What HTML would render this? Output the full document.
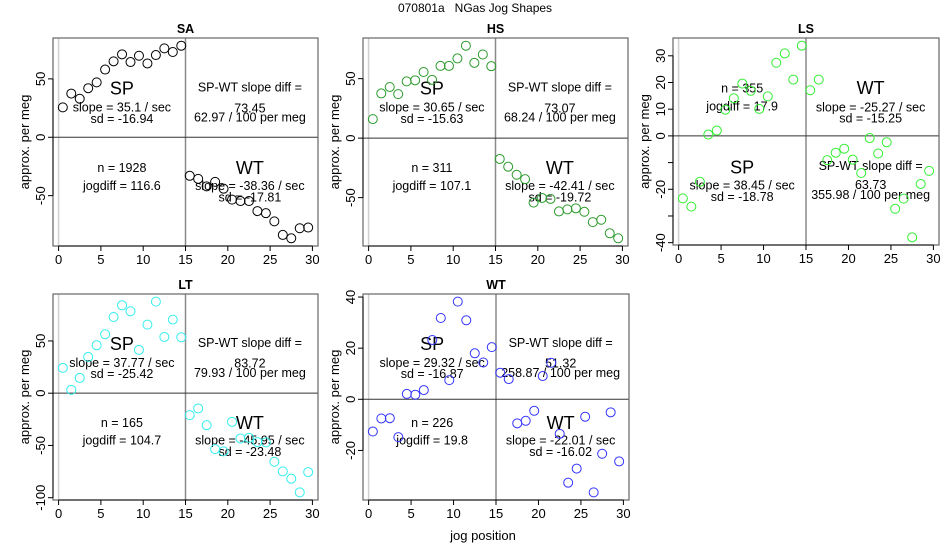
<!DOCTYPE html>
<html><head><meta charset="utf-8"><style>
html,body{margin:0;padding:0;background:#fff}
svg{display:block;font-family:"Liberation Sans",Arial,sans-serif}
</style></head><body>
<svg id="chart" width="950" height="550" viewBox="0 0 950 550" xmlns="http://www.w3.org/2000/svg">
<text x="475" y="12" font-size="12" text-anchor="middle" style="white-space:pre" xml:space="preserve">070801a   NGas Jog Shapes</text>
<text x="483" y="540" font-size="13" text-anchor="middle">jog position</text>
</svg>
<script>
const positions = [0.5,1.5,2.5,3.5,4.5,5.5,6.5,7.5,8.5,9.5,10.5,11.5,12.5,13.5,14.5,15.5,16.5,17.5,18.5,19.5,20.5,21.5,22.5,23.5,24.5,25.5,26.5,27.5,28.5,29.5];
const panelNames = ["SA","HS","LS","LT","WT"];
const valuesSA = [25.6,37.4,33,42,47,58,65,71,64.4,69.8,63.2,70.4,76.1,73,78.4,-33,-35.6,-42,-38.2,-44,-53.4,-54.6,-54.6,-63.2,-65,-72,-83.6,-86.5,-77.9,-77.3];
const valuesHS = [16,37.6,43,37,47.7,48.6,55.6,49,60.7,60.7,67,77.7,63.3,70.3,60.5,-17.5,-24,-30.8,-34.5,-54.2,-50.3,-51.1,-61.6,-59.9,-59,-61.9,-70.6,-68.6,-80,-84.2];
const valuesLS = [-23.4,-26.5,-17.2,0.5,2,9.8,14.1,19.6,16.9,10.1,14.8,27.4,30.9,21.1,33.8,17.1,21.1,-9.1,-6.3,-4.8,-8.9,-13.9,-0.8,-6.6,-2.4,-27.3,-23.5,-38,-18,-13.1];
const valuesLT = [24.2,3.2,14.6,34.7,45.9,56.4,72.9,84.1,78.4,41.4,65.6,87.6,53.8,70.4,53.5,-21,-14.6,-30.6,-53.5,-55.7,-27.4,-43.3,-42.7,-46.8,-47.1,-65.6,-74.8,-81.8,-94.9,-75.5];
const valuesWT = [-12.6,-7.5,-7.4,-14.8,2.1,1.8,3.6,23.2,31.8,7.5,38.2,30.9,18,14.4,20.4,10.4,7.9,-9.4,-8.4,-4.5,9.1,14.3,-13.5,-32.6,-27.1,-6.8,-36.4,-21.3,-5.1,-24.3];
const xTicks = [0,5,10,15,20,25,30];
const yTicksSA = [-50,0,50], yTicksHS = [-50,0,50], yTicksLT = [-100,-50,0,50], yTicksWT = [-20,0,20,40];
const yTicksLS = [-40,-30,-20,-10,0,10,20,30];
const yLabelsLS = ["-40","","-20","","0","10","20","30"];
const statsSA = ["35.1","-16.94","73.45","62.97","1928","116.6","-38.36","-17.81"];
const statsHS = ["30.65","-15.63","73.07","68.24","311","107.1","-42.41","-19.72"];
const statsLS = ["38.45","-18.78","63.73","355.98","355","17.9","-25.27","-15.25"];
const statsLT = ["37.77","-25.42","83.72","79.93","165","104.7","-45.95","-23.48"];
const statsWT = ["29.32","-16.87","51.32","258.87","226","19.8","-22.01","-16.02"];

const svg = document.getElementById('chart');
const NS = 'http://www.w3.org/2000/svg';
function mk(tag, attrs, parent){const e=document.createElementNS(NS,tag);for(const k in attrs)e.setAttribute(k,attrs[k]);(parent||svg).appendChild(e);return e;}

const panels = [
 {name:"SA",vals:valuesSA,ticks:yTicksSA,labels:null,stats:statsSA,box:[53,38,318,246],col:"#000",swap:false},
 {name:"HS",vals:valuesHS,ticks:yTicksHS,labels:null,stats:statsHS,box:[363,38,628,246],col:"#2a9a2a",swap:false},
 {name:"LS",vals:valuesLS,ticks:yTicksLS,labels:yLabelsLS,stats:statsLS,box:[673,38,939,245],col:"#33ee33",swap:true},
 {name:"LT",vals:valuesLT,ticks:yTicksLT,labels:null,stats:statsLT,box:[53,294,318,500],col:"#33eeee",swap:false},
 {name:"WT",vals:valuesWT,ticks:yTicksWT,labels:null,stats:statsWT,box:[363,294,629,500],col:"#3333ff",swap:false}
];

panels.forEach(p=>{
  const [L,T,R,B]=p.box;
  const g=mk('g',{});
  
  
  const xlo=-0.66, xhi=30.66;
  const ymin=Math.min(...p.vals), ymax=Math.max(...p.vals), yp=(ymax-ymin)*0.04;
  const ylo=ymin-yp, yhi=ymax+yp;
  const sx=v=>L+(v-xlo)/(xhi-xlo)*(R-L);
  const sy=v=>B-(v-ylo)/(yhi-ylo)*(B-T);
  const t=mk('text',{x:(L+R)/2,y:T-5,'font-size':12.5,'font-weight':'bold','text-anchor':'middle'},g);
  t.textContent=p.name;
  
  
  const v0=mk('line',{x1:sx(0),x2:sx(0),y1:T,y2:B,stroke:'#d0d0d0','stroke-width':1.5},g);
  
  
  const v15=mk('line',{x1:sx(15),x2:sx(15),y1:T,y2:B,stroke:'#8a8a8a','stroke-width':1.5},g);
  
  
  const h0=mk('line',{x1:L,x2:R,y1:sy(0),y2:sy(0),stroke:'#333','stroke-width':1},g);
  
  
  const bx=mk('rect',{x:L,y:T,width:R-L,height:B-T,fill:'none',stroke:'#666','stroke-width':1.2},g);
  
  
  const xa=mk('g',{},g);
  
  
  mk('line',{x1:sx(xTicks[0]),x2:sx(xTicks[xTicks.length-1]),y1:B,y2:B,stroke:'#000'},xa);
  xTicks.forEach(v=>{
    mk('line',{x1:sx(v),x2:sx(v),y1:B,y2:B+5,stroke:'#000'},xa);
    const l=mk('text',{x:sx(v),y:B+18,'font-size':13,'text-anchor':'middle'},xa);
    l.textContent=v;
    
    
  });
  const ya=mk('g',{},g);
  
  
  mk('line',{x1:L,x2:L,y1:sy(p.ticks[0]),y2:sy(p.ticks[p.ticks.length-1]),stroke:'#000'},ya);
  p.ticks.forEach((v,i)=>{
    mk('line',{x1:L-5,x2:L,y1:sy(v),y2:sy(v),stroke:'#000'},ya);
    const txt=p.labels?p.labels[i]:String(v);
    if(!txt)return;
    const l=mk('text',{x:L-8,y:sy(v),'font-size':13,'text-anchor':'middle',transform:`rotate(-90 ${L-8} ${sy(v)})`},ya);
    l.textContent=txt;
    
    
  });
  const yt=mk('text',{x:L-24,y:(T+B)/2,'font-size':13,'text-anchor':'middle',transform:`rotate(-90 ${L-24} ${(T+B)/2})`},g);
  yt.textContent='approx. per meg';
  
  
  const W=R-L,H=B-T,s=p.stats;
  const ax=L+0.26*W, bxx=L+0.743*W;
  const top=[0.242,0.335,0.389], bot=[0.625,0.712,0.767];
  const spY=p.swap?bot:top, wtY=p.swap?top:bot;
  const diffY=p.swap?[0.618,0.710,0.758]:[0.239,0.338,0.383];
  const nY=p.swap?[0.243,0.332]:[0.625,0.712];
  const ann=[
    ['SP',ax,spY[0],18,'sp-label'],
    ['slope = '+s[0]+' / sec',ax,spY[1],12.5,'sp-slope'],
    ['sd = '+s[1],ax,spY[2],12.5,'sp-sd'],
    ['SP-WT slope diff =',bxx,diffY[0],12.5,'slope-diff-label'],
    [s[2],bxx,diffY[1],12.5,'slope-diff-value'],
    [s[3]+' / 100 per meg',bxx,diffY[2],12.5,'slope-diff-per-meg'],
    ['n = '+s[4],ax,nY[0],12.5,'n-count'],
    ['jogdiff = '+s[5],ax,nY[1],12.5,'jogdiff'],
    ['WT',bxx,wtY[0],18,'wt-label'],
    ['slope = '+s[6]+' / sec',bxx,wtY[1],12.5,'wt-slope'],
    ['sd = '+s[7],bxx,wtY[2],12.5,'wt-sd']
  ];
  ann.forEach(a=>{
    const e=mk('text',{x:a[1],y:T+a[2]*H,'font-size':a[3],'text-anchor':'middle','dominant-baseline':'central'},g);
    e.textContent=a[0];
    
    
  });
  positions.forEach((x,i)=>{
    const c=mk('circle',{cx:sx(x),cy:sy(p.vals[i]),r:4.5,fill:'none',stroke:p.col,'stroke-width':1},g);
    
    
  });
});
</script>
</body></html>
